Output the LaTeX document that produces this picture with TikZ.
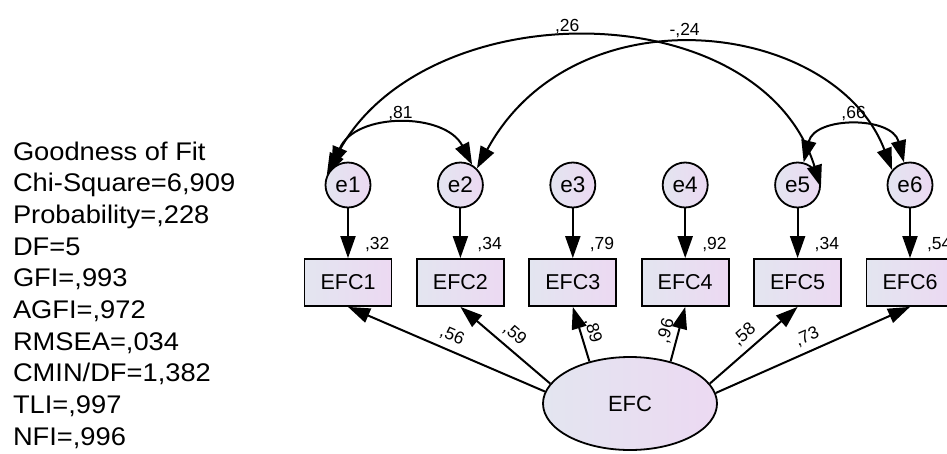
\documentclass[tikz,border=0pt]{standalone}
\usepackage{fontspec}
\setmainfont{Liberation Sans}
\newfontfamily\statfont[FakeStretch=1.07]{Liberation Sans}
\usetikzlibrary{arrows.meta,shapes.geometric,calc}
\definecolor{fillL}{RGB}{227,229,240}
\definecolor{fillR}{RGB}{236,217,242}
\begin{document}
\begin{tikzpicture}[x=1pt,y=-1pt,line width=2pt,
  tip/.style={-{Triangle[length=22pt,width=15pt]}},
  cov/.style={{Triangle[length=22pt,width=15pt]}-{Triangle[length=22pt,width=15pt]}},
  errnode/.style={circle,draw,line width=1.8pt,minimum size=45pt,inner sep=0pt,
    left color=fillL,right color=fillR,font=\fontsize{22.5}{26}\selectfont},
  obsnode/.style={rectangle,draw,line width=1.8pt,minimum width=87pt,minimum height=47pt,
    inner sep=0pt,left color=fillL,right color=fillR,font=\fontsize{21.5}{25}\selectfont},
  latnode/.style={ellipse,draw,line width=1.8pt,minimum width=174pt,minimum height=93pt,
    inner sep=0pt,left color=fillL,right color=fillR,font=\fontsize{22}{26}\selectfont},
  val/.style={font=\fontsize{17.5}{20}\selectfont,inner sep=1pt},
  stat/.style={anchor=base west,inner sep=0pt,font=\statfont\fontsize{25.5}{30}\selectfont}]
\useasboundingbox (0,0) rectangle (947,453);
\clip (0,0) rectangle (947,453);

% fit statistics
\foreach \t [count=\k from 0] in {{Goodness of Fit},{Chi-Square=6,909},{Probability=,228},
  {DF=5},{GFI=,993},{AGFI=,972},{RMSEA=,034},{CMIN/DF=1,382},{TLI=,997},{NFI=,996}}
  \node[stat] (fit\k) at (12,160+31.67*\k) {\t};

% error terms and observed indicators
\foreach \i/\x in {1/348,2/460.4,3/572.8,4/685.2,5/797.6,6/910} {
  \node[errnode] (e\i) at (\x,185) {e\i};
  \node[obsnode] (b\i) at (\x,282.5) {EFC\i};
  \draw[tip] (e\i) -- (b\i);
}

% squared multiple correlations
\node[val,anchor=base east] (r1) at ($(b1.north east)+(-1,-9)$) {,32};
\node[val,anchor=base east] (r2) at ($(b2.north east)+(-1,-9)$) {,34};
\node[val,anchor=base east] (r3) at ($(b3.north east)+(-1,-9)$) {,79};
\node[val,anchor=base east] (r4) at ($(b4.north east)+(-1,-9)$) {,92};
\node[val,anchor=base east] (r5) at ($(b5.north east)+(-1,-9)$) {,34};
\node[val,anchor=base east] (r6) at ($(b6.north east)+(-1,-9)$) {,54};

% latent factor and loadings
\node[latnode] (efc) at (630,403.5) {EFC};
\draw[tip] (efc.172.5) -- (b1.south) node[val,sloped,pos=0.5,above=5pt] {,56};
\draw[tip] (efc.166) -- (b2.south) node[val,sloped,pos=0.5,above=5pt] {,59};
\draw[tip] (efc.134) -- (b3.south) node[val,sloped,pos=0.5,above=3pt] {,89};
\draw[tip] (efc.46) -- (b4.south) node[val,sloped,pos=0.5,above=3pt] {,96};
\draw[tip] (efc.14) -- (b5.south) node[val,sloped,pos=0.5,above=5pt] {,58};
\draw[tip] (efc.7.5) -- (b6.south) node[val,sloped,pos=0.5,above=5pt] {,73};

% error covariances
\draw[cov] (e1.155) .. controls (420,-9) and (760,-9) .. (e5.355)
  node[val,pos=0.47,above=3pt] {,26};
\draw[cov] (e2.45) .. controls (575,-12) and (835,20) .. (e6.140)
  node[val,pos=0.47,above=5pt] {-,24};
\draw[cov] (e1.135) .. controls (355,112) and (445,112) .. (e2.60)
  node[val,pos=0.5,above=3pt] {,81};
\draw[cov] (e5.75) .. controls (815,116) and (892,116) .. (e6.105)
  node[val,pos=0.5,above=5pt] {,66};
\end{tikzpicture}
\end{document}
